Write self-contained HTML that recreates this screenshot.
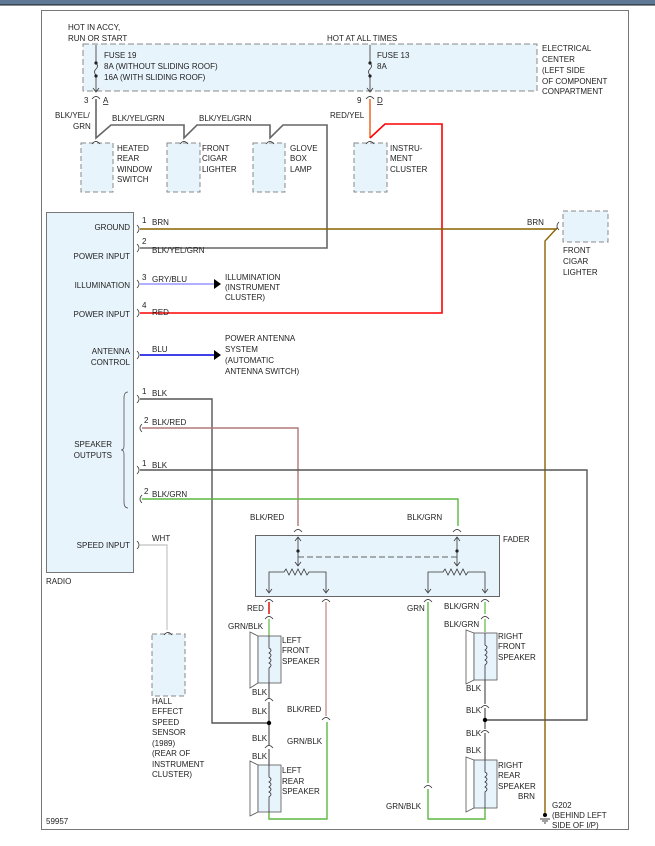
<!DOCTYPE html>
<html><head><meta charset="utf-8"><style>
html,body{margin:0;padding:0;background:#fff;}
svg{display:block;}
text{font-family:"Liberation Sans",sans-serif;font-size:8px;fill:#222;}
</style></head><body>
<svg width="655" height="846" viewBox="0 0 655 846" xmlns="http://www.w3.org/2000/svg">
<defs>
<path id="cv" d="M-4,2 Q0,-3 4,2 M0,-1 V-0" fill="none" stroke="#333" stroke-width="0.8"/>
<path id="ch" d="M-1,-4 Q3,0 -1,4" fill="none" stroke="#333" stroke-width="0.8"/>
<path id="dn" d="M-3,-4 L0,0 L3,-4" fill="none" stroke="#333" stroke-width="0.8"/>
<path id="up" d="M-3,4 L0,0 L3,4" fill="none" stroke="#333" stroke-width="0.8"/>
</defs>
<rect x="0" y="0" width="655" height="5" fill="#5e7896"/>
<line x1="0" y1="5" x2="655" y2="5" stroke="#1a1a1a" stroke-width="1"/>
<rect x="41.5" y="10.5" width="587" height="819" fill="none" stroke="#777" stroke-width="1"/>

<!-- top -->
<text x="68" y="30">HOT IN ACCY,</text><text x="68" y="41">RUN OR START</text>
<text x="327" y="41">HOT AT ALL TIMES</text>
<rect x="83" y="44" width="454" height="47" fill="#e8f4fc" stroke="#888" stroke-dasharray="6,3"/>
<text x="104" y="58">FUSE 19</text><text x="104" y="69">8A  (WITHOUT SLIDING ROOF)</text><text x="104" y="80">16A  (WITH SLIDING ROOF)</text>
<text x="377" y="58">FUSE 13</text><text x="377" y="69">8A</text>
<text x="542" y="51">ELECTRICAL</text><text x="542" y="62">CENTER</text><text x="542" y="73">(LEFT SIDE</text><text x="542" y="84">OF COMPONENT</text><text x="542" y="94">CONPARTMENT</text>
<g stroke="#333" stroke-width="0.8" fill="none">
<path d="M96,45 V62 M96,63 q3,3 0,6 q-3,3 0,6 M96,76 V92"/>
<path d="M370,45 V62 M370,63 q3,3 0,6 q-3,3 0,6 M370,76 V92"/>
</g>
<circle cx="96" cy="63" r="1.6" fill="#222"/><circle cx="96" cy="76" r="1.6" fill="#222"/>
<circle cx="370" cy="63" r="1.6" fill="#222"/><circle cx="370" cy="76" r="1.6" fill="#222"/>
<use href="#dn" x="96" y="92"/><use href="#dn" x="370" y="92"/>
<use href="#cv" x="96" y="97"/><use href="#cv" x="370" y="97"/>
<text x="84" y="103">3</text><text x="103" y="103" text-decoration="underline">A</text>
<text x="357" y="103">9</text><text x="377" y="103" text-decoration="underline">D</text>

<path d="M96,99 V138 L111,125 H184 V138 L197,125 H270 V138 L283,125 H327 V248 H140" fill="none" stroke="#666" stroke-width="1.6"/>
<text x="55" y="118">BLK/YEL/</text><text x="73" y="129">GRN</text>
<text x="112" y="121">BLK/YEL/GRN</text><text x="199" y="121">BLK/YEL/GRN</text>
<path d="M370,99 V138" stroke="#f07030" stroke-width="1.6"/>
<path d="M370,138 L385,124 H442 V313 H140" fill="none" stroke="#f00" stroke-width="1.6"/>
<text x="330" y="118">RED/YEL</text>

<g fill="#e8f4fc" stroke="#888" stroke-dasharray="5,3">
<rect x="81" y="143" width="32" height="49"/><rect x="167" y="143" width="33" height="49"/>
<rect x="253" y="143" width="32" height="49"/><rect x="354" y="143" width="33" height="49"/>
<rect x="563" y="211" width="45" height="31"/><rect x="152" y="634" width="33" height="62"/>
</g>
<use href="#cv" x="96" y="142"/><use href="#cv" x="184" y="142"/><use href="#cv" x="270" y="142"/><use href="#cv" x="370" y="142"/><use href="#cv" x="168" y="633"/>
<text x="117" y="151">HEATED</text><text x="117" y="161">REAR</text><text x="117" y="172">WINDOW</text><text x="117" y="182">SWITCH</text>
<text x="202" y="151">FRONT</text><text x="202" y="161">CIGAR</text><text x="202" y="172">LIGHTER</text>
<text x="290" y="151">GLOVE</text><text x="290" y="161">BOX</text><text x="290" y="172">LAMP</text>
<text x="390" y="151">INSTRU-</text><text x="390" y="161">MENT</text><text x="390" y="172">CLUSTER</text>

<!-- radio -->
<rect x="46.5" y="212.5" width="87" height="360" fill="#e8f4fc" stroke="#777"/>
<g text-anchor="end">
<text x="130" y="230">GROUND</text><text x="130" y="259">POWER INPUT</text><text x="130" y="288">ILLUMINATION</text>
<text x="130" y="317">POWER INPUT</text><text x="130" y="354">ANTENNA</text><text x="130" y="365">CONTROL</text>
<text x="112" y="447">SPEAKER</text><text x="112" y="458">OUTPUTS</text><text x="130" y="548">SPEED INPUT</text>
</g>
<text x="46" y="584">RADIO</text>
<path d="M128,392 q-4,0 -4,6 V446 q0,4 -3,4 q3,0 3,4 V502 q0,6 4,6" fill="none" stroke="#555" stroke-width="0.8"/>
<g>
<use href="#ch" x="138" y="229"/><use href="#ch" x="138" y="248"/><use href="#ch" x="138" y="284"/><use href="#ch" x="138" y="313"/>
<use href="#ch" x="138" y="355"/><use href="#ch" x="138" y="399"/><use href="#ch" x="141" y="428" transform="rotate(180 141 428)"/><use href="#ch" x="138" y="470"/><use href="#ch" x="141" y="499" transform="rotate(180 141 499)"/><use href="#ch" x="138" y="545"/>
</g>
<path d="M140,229 H557" stroke="#8a6400" stroke-width="1.4"/>
<path d="M545,815 V241 L557,228" fill="none" stroke="#8a6400" stroke-width="1.4"/>
<use href="#ch" x="562" y="226" transform="rotate(180 560 226)"/>
<text x="142" y="223">1</text><text x="152" y="225">BRN</text><text x="527" y="225">BRN</text>
<text x="563" y="253">FRONT</text><text x="563" y="264">CIGAR</text><text x="563" y="275">LIGHTER</text>
<text x="142" y="244">2</text><text x="152" y="253">BLK/YEL/GRN</text>
<path d="M140,284 H214" stroke="#8080ff" stroke-width="1.2"/><path d="M214,279 L221,284 L214,289Z" fill="#000"/>
<text x="142" y="280">3</text><text x="152" y="282">GRY/BLU</text>
<text x="225" y="280">ILLUMINATION</text><text x="225" y="290">(INSTRUMENT</text><text x="225" y="300">CLUSTER)</text>
<text x="142" y="308">4</text><text x="152" y="315">RED</text>
<path d="M140,355 H214" stroke="#0000e0" stroke-width="1.6"/><path d="M214,350 L221,355 L214,360Z" fill="#000"/>
<text x="152" y="352">BLU</text>
<text x="225" y="341">POWER ANTENNA</text><text x="225" y="352">SYSTEM</text><text x="225" y="363">(AUTOMATIC</text><text x="225" y="374">ANTENNA SWITCH)</text>

<path d="M140,399 H212 V723 H268" fill="none" stroke="#555" stroke-width="1.4"/>
<text x="142" y="394">1</text><text x="152" y="396">BLK</text>
<path d="M142,428 H298 V526" fill="none" stroke="#b07878" stroke-width="1.4"/>
<text x="144" y="423">2</text><text x="152" y="425">BLK/RED</text>
<path d="M140,470 H587 V720 H485" fill="none" stroke="#555" stroke-width="1.4"/>
<text x="142" y="466">1</text><text x="152" y="468">BLK</text>
<path d="M142,499 H458 V526" fill="none" stroke="#5cb840" stroke-width="1.4"/>
<text x="144" y="494">2</text><text x="152" y="497">BLK/GRN</text>
<path d="M140,545 H167 V630" fill="none" stroke="#ccc" stroke-width="1.4"/>
<text x="152" y="541">WHT</text>
<text x="152" y="704">HALL</text><text x="152" y="714">EFFECT</text><text x="152" y="725">SPEED</text><text x="152" y="735">SENSOR</text><text x="152" y="746">(1989)</text><text x="152" y="756">(REAR OF</text><text x="152" y="767">INSTRUMENT</text><text x="152" y="777">CLUSTER)</text>
<text x="46" y="824">59957</text>

<!-- fader -->
<text x="250" y="520">BLK/RED</text><text x="407" y="520">BLK/GRN</text>
<use href="#cv" x="298" y="530"/><use href="#cv" x="457" y="530"/>
<rect x="255.5" y="535.5" width="244" height="61" fill="#e8f4fc" stroke="#666"/>
<text x="503" y="542">FADER</text>
<g stroke="#333" stroke-width="0.8" fill="none">
<path d="M298,537 V566 M457,537 V566"/>
<path d="M298,557 H457" stroke-dasharray="6,3"/>
<path d="M269,592 V572 H284 l2,-3 l3,6 l3,-6 l3,6 l3,-6 l3,6 l3,-6 l3,6 l2,-3 H326 V592"/>
<path d="M428,592 V572 H443 l2,-3 l3,6 l3,-6 l3,6 l3,-6 l3,6 l3,-6 l3,6 l2,-3 H485 V592"/>
</g>
<use href="#up" x="298" y="537"/><use href="#up" x="457" y="537"/>
<use href="#dn" x="298" y="566"/><use href="#dn" x="457" y="566"/>
<use href="#dn" x="269" y="593"/><use href="#dn" x="326" y="593"/><use href="#dn" x="428" y="593"/><use href="#dn" x="485" y="593"/>
<circle cx="298" cy="551" r="1.6" fill="#222"/><circle cx="457" cy="551" r="1.6" fill="#222"/>
<use href="#cv" x="269" y="600"/><use href="#cv" x="326" y="600"/><use href="#cv" x="428" y="600"/><use href="#cv" x="485" y="600"/>

<!-- left wires -->
<path d="M269,602 V614" stroke="#e02020" stroke-width="1.6"/>
<use href="#cv" x="269" y="617"/>
<path d="M269,619 V683" stroke="#5cb840" stroke-width="1.2"/>
<path d="M269,683 V698 M269,702 V745 M269,749 V812" stroke="#555" stroke-width="1.2"/>
<use href="#cv" x="269" y="699"/><use href="#cv" x="269" y="746"/>
<circle cx="269" cy="723" r="2.2" fill="#000"/>
<path d="M269,812 V819 H327 V722" fill="none" stroke="#5cb840" stroke-width="1.4"/>
<path d="M326,602 V716" stroke="#c08080" stroke-width="1.2"/>
<use href="#cv" x="326" y="718"/>
<text x="247" y="611">RED</text><text x="228" y="629">GRN/BLK</text>
<text x="252" y="695">BLK</text><text x="252" y="714">BLK</text><text x="252" y="741">BLK</text><text x="252" y="759">BLK</text>
<text x="287" y="712">BLK/RED</text><text x="287" y="744">GRN/BLK</text>

<!-- right wires -->
<path d="M428,602 V783 M428,789 V819 H485 V808" fill="none" stroke="#5cb840" stroke-width="1.4"/>
<use href="#cv" x="428" y="786"/>
<path d="M485,602 V614 M485,619 V632" stroke="#5cb840" stroke-width="1.2"/>
<use href="#cv" x="485" y="617"/>
<path d="M485,680 V704 M485,708 V729 M485,733 V760" stroke="#555" stroke-width="1.2"/>
<use href="#cv" x="485" y="706"/><use href="#cv" x="485" y="731"/>
<circle cx="485" cy="720" r="2.2" fill="#000"/>
<text x="407" y="611">GRN</text><text x="444" y="609">BLK/GRN</text><text x="444" y="627">BLK/GRN</text>
<text x="466" y="691">BLK</text><text x="466" y="713">BLK</text><text x="466" y="736">BLK</text><text x="466" y="753">BLK</text>
<text x="386" y="809">GRN/BLK</text>

<!-- speakers -->
<g fill="#e8f4fc" stroke="#555" stroke-width="0.8">
<polygon points="250,632 258,636 258,683 250,688" fill="#fff"/><rect x="258" y="636" width="23" height="47"/>
<polygon points="250,761 258,765 258,812 250,816" fill="#fff"/><rect x="258" y="765" width="23" height="47"/>
<polygon points="466,630 474,633 474,680 466,684" fill="#fff"/><rect x="474" y="633" width="23" height="47"/>
<polygon points="466,757 474,760 474,808 466,812" fill="#fff"/><rect x="474" y="760" width="23" height="48"/>
</g>
<g fill="none" stroke="#333" stroke-width="0.8">
<path d="M269,636 V648 q4,2 0,5 q4,2 0,5 q4,2 0,5 q4,2 0,5 V683"/>
<path d="M269,765 V777 q4,2 0,5 q4,2 0,5 q4,2 0,5 q4,2 0,5 V812"/>
<path d="M485,633 V645 q4,2 0,5 q4,2 0,5 q4,2 0,5 q4,2 0,5 V680"/>
<path d="M485,760 V772 q4,2 0,5 q4,2 0,5 q4,2 0,5 q4,2 0,5 V808"/>
</g>
<text x="282" y="643">LEFT</text><text x="282" y="653">FRONT</text><text x="282" y="664">SPEAKER</text>
<text x="282" y="773">LEFT</text><text x="282" y="784">REAR</text><text x="282" y="794">SPEAKER</text>
<text x="498" y="639">RIGHT</text><text x="498" y="649">FRONT</text><text x="498" y="660">SPEAKER</text>
<text x="498" y="768">RIGHT</text><text x="498" y="778">REAR</text><text x="498" y="789">SPEAKER</text>
<text x="518" y="799">BRN</text>
<text x="552" y="808">G202</text><text x="552" y="818">(BEHIND LEFT</text><text x="552" y="828">SIDE OF I/P)</text>
<circle cx="545" cy="815" r="2" fill="#000"/>
<path d="M540,819 H550 M542,821 H548 M544,823 H546" stroke="#000" stroke-width="0.8"/>
</svg>
</body></html>
